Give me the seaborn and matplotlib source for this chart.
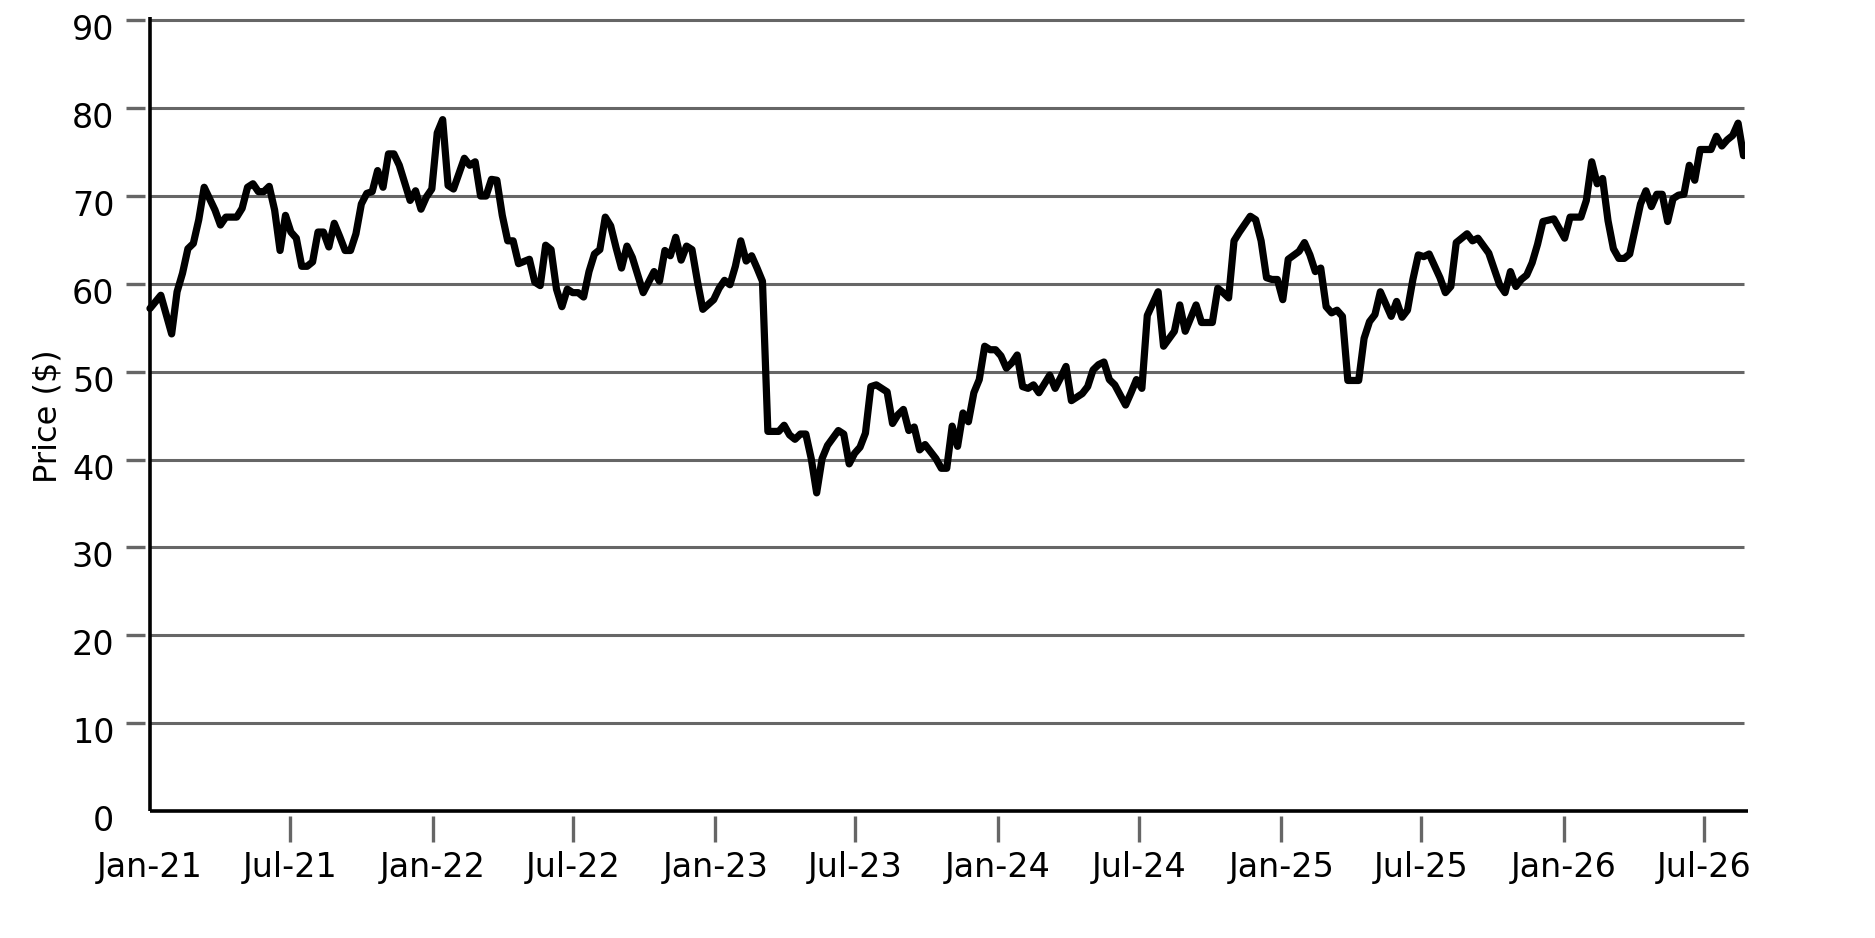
import matplotlib
matplotlib.use("Agg")

import numpy as np
import pandas as pd
import matplotlib.pyplot as plt
import matplotlib.dates as mdates
import matplotlib.transforms as mtransforms
import seaborn as sns

# weekly series (week number since 1 Jan 2021, price in $)
start_date = "2021-01-01"
week_no = [
    0, 2, 4, 5, 6, 7, 8, 9, 10, 12, 13, 14, 16, 17, 18, 19, 20, 21, 22, 23,
    24, 25, 26, 27, 28, 29, 30, 31, 32, 33, 34, 35, 36, 37, 38, 39, 40, 41, 42, 43,
    44, 45, 46, 48, 49, 50, 51, 52, 53, 54, 55, 56, 58, 59, 60, 61, 62, 63, 64, 65,
    66, 67, 68, 70, 71, 72, 73, 74, 75, 76, 77, 78, 79, 80, 81, 82, 83, 84, 85, 86,
    87, 88, 89, 91, 93, 94, 95, 96, 97, 98, 99, 100, 101, 102, 104, 105, 106, 107, 108, 109,
    110, 111, 112, 113, 114, 116, 117, 118, 119, 120, 121, 122, 123, 124, 125, 127, 128, 129, 130, 131,
    132, 133, 134, 136, 137, 138, 139, 140, 141, 142, 143, 145, 146, 147, 148, 149, 150, 151, 152, 153,
    154, 155, 156, 157, 158, 159, 160, 161, 162, 163, 164, 166, 167, 168, 169, 170, 172, 173, 174, 175,
    176, 177, 178, 180, 181, 182, 183, 184, 186, 187, 189, 190, 191, 193, 194, 196, 197, 198, 199, 200,
    201, 203, 204, 205, 206, 207, 208, 209, 210, 212, 213, 214, 215, 216, 217, 218, 219, 220, 221, 223,
    224, 225, 226, 227, 229, 230, 231, 232, 233, 234, 235, 236, 238, 239, 240, 241, 243, 244, 245, 247,
    249, 250, 251, 252, 253, 254, 255, 256, 257, 259, 261, 262, 264, 265, 266, 267, 268, 269, 270, 271,
    272, 273, 275, 276, 277, 278, 279, 280, 281, 282, 283, 284, 285, 286, 288, 289, 290, 291, 292, 293,
    294,
]
price = [
    57.2, 58.7, 54.3, 59.1, 61.2, 64.0, 64.6, 67.3, 71.0, 68.4, 66.7, 67.6, 67.6, 68.6, 71.0, 71.4, 70.5, 70.5, 71.1, 68.4,
    63.8, 67.8, 65.9, 65.2, 62.0, 62.0, 62.5, 65.9, 65.9, 64.2, 66.9, 65.4, 63.8, 63.8, 65.7, 69.1, 70.3, 70.5, 72.9, 71.0,
    74.8, 74.8, 73.5, 69.5, 70.6, 68.5, 69.9, 70.8, 77.2, 78.7, 71.2, 70.8, 74.3, 73.5, 73.9, 70.0, 70.0, 71.9, 71.8, 67.8,
    64.9, 64.9, 62.3, 62.8, 60.2, 59.8, 64.4, 63.9, 59.4, 57.4, 59.4, 59.0, 59.0, 58.5, 61.4, 63.4, 63.9, 67.6, 66.6, 64.1,
    61.8, 64.3, 63.0, 59.0, 61.4, 60.3, 63.8, 63.2, 65.3, 62.7, 64.3, 63.9, 60.3, 57.1, 58.2, 59.5, 60.4, 59.9, 62.0, 64.9,
    62.6, 63.2, 61.8, 60.3, 43.2, 43.2, 43.9, 42.8, 42.3, 42.9, 42.9, 40.1, 36.2, 40.1, 41.6, 43.3, 42.9, 39.5, 40.7, 41.4,
    43.0, 48.3, 48.5, 47.7, 44.1, 45.1, 45.7, 43.3, 43.7, 41.1, 41.7, 40.1, 39.0, 39.0, 43.8, 41.5, 45.3, 44.3, 47.6, 49.1,
    52.9, 52.5, 52.5, 51.8, 50.4, 51.0, 51.9, 48.3, 48.1, 48.5, 47.6, 49.6, 48.1, 49.3, 50.6, 46.7, 47.5, 48.3, 50.2, 50.8,
    51.1, 49.1, 48.5, 46.2, 47.6, 49.1, 48.1, 56.4, 59.1, 52.9, 54.6, 57.6, 54.6, 57.6, 55.6, 55.6, 59.5, 59.0, 58.4, 64.9,
    65.9, 67.7, 67.3, 64.9, 60.7, 60.5, 60.5, 58.2, 62.8, 63.7, 64.7, 63.3, 61.4, 61.8, 57.4, 56.7, 57.0, 56.3, 49.0, 49.0,
    53.8, 55.7, 56.5, 59.1, 56.3, 58.0, 56.2, 57.0, 60.5, 63.3, 63.1, 63.4, 60.7, 59.0, 59.7, 64.7, 65.7, 64.9, 65.2, 63.5,
    59.9, 59.0, 61.4, 59.7, 60.5, 61.0, 62.4, 64.5, 67.1, 67.4, 65.2, 67.6, 67.6, 69.5, 73.9, 71.4, 72.0, 67.2, 64.0, 62.9,
    62.9, 63.4, 69.1, 70.6, 68.8, 70.2, 70.2, 67.1, 69.7, 70.1, 70.2, 73.5, 71.8, 75.3, 75.3, 76.8, 75.7, 76.4, 76.9, 78.3,
    74.6,
]
y_ticks = [0, 10, 20, 30, 40, 50, 60, 70, 80, 90]

df = pd.DataFrame({
    "date": pd.Timestamp(start_date) + pd.to_timedelta(np.array(week_no) * 7, unit="D"),
    "price": price,
})
first, last = df["date"].min(), df["date"].max()

sns.set_style("white")
plt.rcParams["font.family"] = ["DejaVu Sans"]
plt.rcParams["text.color"] = "black"
plt.rcParams["axes.labelcolor"] = "black"
plt.rcParams["xtick.labelcolor"] = "black"
plt.rcParams["ytick.labelcolor"] = "black"

fig = plt.figure(figsize=(18.75, 9.38), dpi=100)
ax = fig.add_axes([0.0773, 0.130, 0.8534, 0.852])

grid_col = "#666666"

# horizontal grid lines, only across the data span
ax.hlines(y_ticks[1:], first, last, color=grid_col, lw=2.2, zorder=1)

sns.lineplot(data=df, x="date", y="price", ax=ax, color="black", lw=5.2, zorder=3)

# black axis lines at x = first date and y = 0
ax.hlines(0, first, last + pd.Timedelta(days=6), color="black", lw=2.6, zorder=4, clip_on=False)
ax.vlines(first, 0, 90.4, color="black", lw=2.6, zorder=4, clip_on=False)

for s in ax.spines.values():
    s.set_visible(False)

ax.set_xlim(first - pd.Timedelta(days=6.5), last + pd.Timedelta(days=2))
ax.set_ylim(-0.6, 90.4)

ax.xaxis.set_major_locator(mdates.MonthLocator(bymonth=[1, 7]))
ax.xaxis.set_major_formatter(mdates.DateFormatter("%b-%y"))
ax.set_yticks(y_ticks)

ax.tick_params(axis="x", bottom=True, length=19, width=2.4, color=grid_col,
               labelsize=24, pad=6)
ax.tick_params(axis="y", left=True, length=14, width=2.4, color=grid_col,
               labelsize=24, pad=8)

ax.set_xlabel("")
ax.set_ylabel("Price ($)", fontsize=23, labelpad=6)

# no tick marks at the origin; y labels sit a little below their lines
xt = ax.xaxis.get_major_ticks()
xt[0].tick1line.set_visible(False)
yt = ax.yaxis.get_major_ticks()
yt[0].tick1line.set_visible(False)
shift = mtransforms.ScaledTranslation(0, -0.07, fig.dpi_scale_trans)
for lab in ax.get_yticklabels():
    lab.set_transform(lab.get_transform() + shift)

fig.savefig("out.png", dpi=100, facecolor="white")
